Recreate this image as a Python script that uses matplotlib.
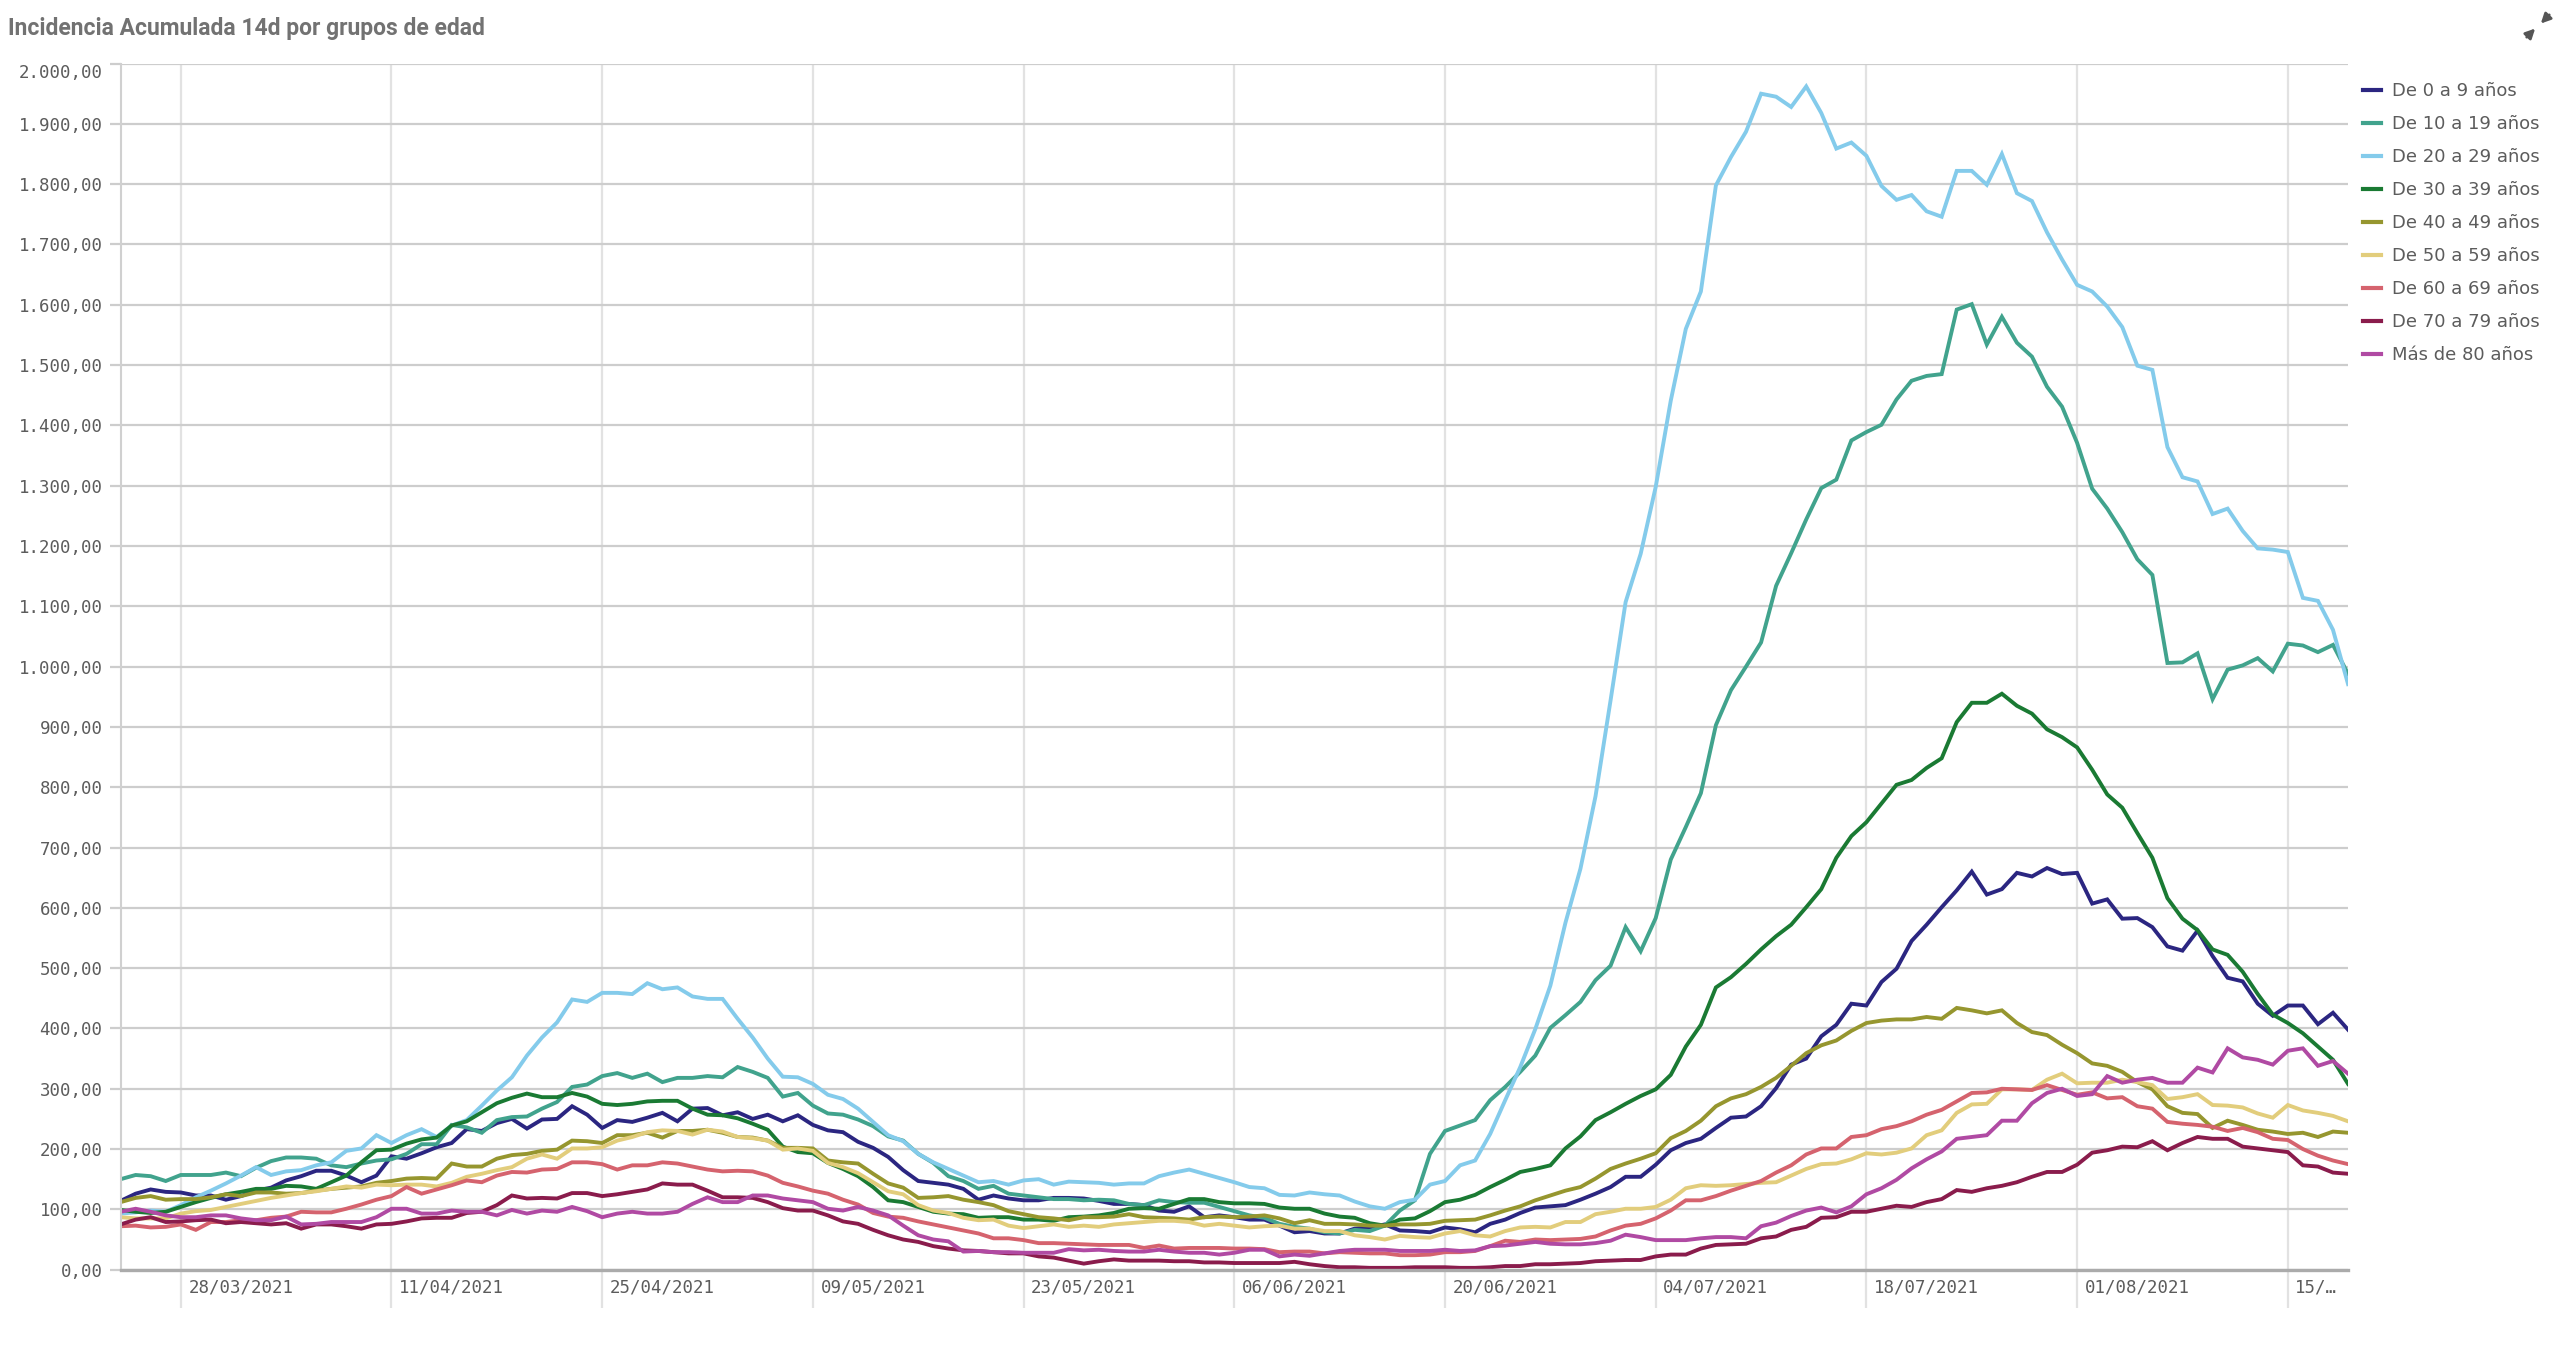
import numpy as np
import pandas as pd
import matplotlib
matplotlib.use("Agg")
import matplotlib.pyplot as plt
import matplotlib.transforms as mtransforms
from matplotlib import font_manager
from matplotlib.patches import FancyArrowPatch

# Incidencia acumulada a 14 dias por grupo de edad, 24/03/2021 - 19/08/2021
dates = pd.date_range("2021-03-24", periods=149, freq="D")

edad_0_9 = [114,126,133,129,128,123,123,116,122,131,136,148,155,164,164,156,145,156,188,184,
            193,203,210,233,230,243,250,234,249,250,271,257,235,248,
            245,252,260,246,267,268,256,261,250,257,246,256,240,231,228,212,202,187,165,147,
            144,141,134,116,123,118,115,115,119,119,118,114,109,
            109,107,98,96,105,87,90,87,83,83,73,62,64,60,60,68,70,75,65,64,62,70,67,62,76,83,
            94,103,105,107,116,126,137,
            154,154,174,198,210,217,235,252,254,271,301,340,350,387,406,441,438,477,499,545,
            572,601,629,
            660,622,631,658,652,666,656,658,607,614,582,583,568,536,529,562,520,484,478,441,
            421,438,438,407,426,398]

edad_10_19 = [150,157,155,147,157,157,157,161,155,169,180,186,186,184,173,170,176,181,183,192,
              208,208,240,236,227,248,253,254,267,278,303,307,321,326,
              318,325,311,318,318,321,319,336,328,318,287,293,272,259,257,249,238,221,214,192,
              177,155,147,134,139,126,123,120,117,117,115,116,115,
              109,107,115,112,111,111,104,97,90,86,76,71,68,62,60,66,64,73,98,115,192,230,239,
              248,281,303,328,355,401,422,444,480,504,
              568,528,583,680,734,790,903,961,1000,
              1040,1134,1188,1244,1296,1310,1375,1389,1401,1443,1474,1482,1485,1592,1601,1534,
              1580,1537,1514,1464,1431,1371,1295,1262,1223,1178,1152,1006,1007,1022,946,995,
              1002,1014,992,1038,1035,1024,1036,988]

edad_20_29 = [93,95,98,96,107,120,131,143,156,170,157,163,165,173,178,197,201,223,210,223,
              233,220,239,248,272,297,319,355,385,410,448,444,459,459,
              457,475,465,468,453,449,449,416,385,350,320,319,308,290,283,267,245,223,213,192,
              178,167,156,145,147,141,148,150,141,146,145,144,141,
              143,143,155,161,166,159,152,145,137,135,124,123,128,125,123,113,105,101,112,116,
              141,147,173,181,225,281,336,399,471,
              575,665,785,944,
              1107,1187,1298,1441,1560,1622,1798,1845,1887,1950,1945,1928,1962,1918,1859,1869,
              1847,1797,1774,1782,1755,1746,1822,1822,1799,
              1850,1785,1772,1720,1675,1633,1622,1597,1563,1499,1492,1364,1314,1307,1253,1262,
              1225,1196,1194,1190,1114,1109,1061,971]

edad_30_39 = [99,96,94,96,104,112,119,125,129,134,134,139,138,134,145,156,178,198,199,209,
              216,219,239,246,261,276,285,292,286,286,293,287,275,273,
              275,279,280,280,267,257,256,251,242,232,204,195,193,177,167,155,137,115,112,104,
              96,93,92,86,87,87,83,83,81,87,88,90,94,
              101,102,101,109,117,117,112,110,110,109,103,101,101,93,88,86,77,73,83,85,97,112,
              116,124,137,149,162,167,173,201,221,248,261,
              275,288,299,323,370,406,468,485,507,531,553,572,601,631,683,719,742,773,804,812,
              832,848,908,
              940,940,955,935,922,896,883,866,829,788,766,724,683,616,582,563,531,522,494,457,
              423,409,392,370,348,308]

edad_40_49 = [112,119,122,116,117,117,120,125,122,128,128,126,127,131,134,136,138,144,147,151,
              152,151,176,171,171,184,190,192,197,199,214,213,210,223,
              223,227,219,230,230,232,227,220,219,214,202,202,201,181,178,176,159,143,136,119,
              120,122,116,112,107,97,92,87,85,82,87,87,88,
              92,87,86,85,83,87,88,87,88,90,85,77,82,76,76,75,73,73,75,75,76,81,82,83,90,98,
              105,115,123,131,137,151,167,
              176,184,193,218,230,247,271,284,291,303,318,338,359,372,380,396,409,413,415,415,
              419,416,434,
              430,425,430,409,394,389,373,359,342,338,328,311,299,271,260,258,235,247,240,232,
              229,225,227,220,229,227]

edad_50_59 = [87,85,85,85,93,97,99,104,109,114,119,123,127,130,134,138,136,141,140,141,
              141,138,144,154,159,165,170,184,191,184,201,201,203,214,
              220,228,231,230,224,232,229,220,218,214,199,201,197,177,170,160,145,130,125,107,
              98,94,86,82,83,73,69,72,75,71,73,71,75,
              77,79,81,81,79,73,76,73,70,72,73,68,68,64,64,57,54,50,56,54,53,60,64,57,55,64,
              70,71,70,79,79,92,96,
              101,101,104,116,135,140,139,140,142,144,145,156,167,175,176,183,193,191,194,201,
              223,231,260,
              274,275,299,299,298,315,325,309,310,310,315,311,306,283,286,291,273,272,269,259,
              252,273,264,260,255,246]

edad_60_69 = [72,73,70,71,75,66,79,79,82,82,86,88,96,95,95,101,108,116,122,137,
              126,133,140,148,145,156,162,161,166,167,178,178,175,166,
              173,173,178,176,171,166,163,164,163,156,144,138,131,126,116,108,94,88,86,80,
              75,70,65,60,52,52,49,44,44,43,42,41,41,
              41,36,40,35,36,36,36,35,35,34,29,30,30,27,29,28,27,27,24,24,25,29,29,31,39,48,
              46,50,49,50,51,55,65,
              73,76,85,98,115,115,122,131,139,147,161,173,191,201,201,220,223,233,238,246,
              257,265,279,
              293,294,300,299,298,306,298,290,294,284,286,271,267,245,242,240,237,230,235,228,
              217,215,200,189,181,175]

edad_70_79 = [75,83,87,79,80,82,83,77,79,77,75,77,68,75,75,72,68,75,76,80,
              85,86,86,94,96,107,123,118,119,118,127,127,122,125,
              129,133,143,141,141,131,120,120,119,112,102,98,98,90,80,76,66,57,50,46,
              39,35,32,31,29,27,27,22,20,15,10,14,17,
              15,15,15,14,14,12,12,11,11,11,11,13,9,6,4,4,3,3,3,4,4,4,3,3,4,6,
              6,9,9,10,11,14,15,
              16,16,22,25,25,35,41,42,43,52,55,66,71,86,87,96,96,101,106,104,
              112,117,132,
              129,135,139,145,154,162,162,174,194,198,204,203,213,198,210,220,217,217,204,201,
              198,195,173,171,161,159]

edad_80_mas = [96,101,96,90,87,87,90,90,85,82,82,88,75,76,79,79,79,87,101,101,
               93,93,98,96,96,90,99,93,98,96,104,97,87,93,
               96,93,93,96,109,120,112,112,123,123,118,115,112,101,98,104,98,90,73,57,
               50,47,30,31,29,29,28,28,28,34,32,33,31,
               30,30,33,30,28,28,25,28,33,33,22,25,23,27,31,33,33,33,31,31,31,33,31,32,39,40,
               43,46,43,42,42,44,48,
               58,54,49,49,49,52,54,54,52,72,78,89,98,103,95,105,125,135,149,168,
               183,196,217,
               220,223,247,247,276,293,300,288,291,321,310,315,318,310,310,335,327,367,352,348,
               340,363,367,338,346,325]

series_names = ["De 0 a 9 años", "De 10 a 19 años", "De 20 a 29 años", "De 30 a 39 años",
                "De 40 a 49 años", "De 50 a 59 años", "De 60 a 69 años", "De 70 a 79 años",
                "Más de 80 años"]
series_values = [edad_0_9, edad_10_19, edad_20_29, edad_30_39, edad_40_49,
                 edad_50_59, edad_60_69, edad_70_79, edad_80_mas]
colors = ["#2b2681", "#41a38d", "#84cbeb", "#1a7a33", "#96962f",
          "#e2cd7c", "#d5636e", "#8a1c4c", "#b04aa3"]

y_ticks = np.arange(0, 2001, 100)
x_ticks = pd.date_range("2021-03-28", periods=11, freq="14D")
x_labels = [d.strftime("%d/%m/%Y") for d in x_ticks[:-1]] + ["15/…"]

names = {f.name for f in font_manager.fontManager.ttflist}
title_font = "Liberation Sans Narrow" if "Liberation Sans Narrow" in names else "Roboto"
mono = "DejaVu Sans Mono"
grey_txt = "#5c5c5c"

fig = plt.figure(figsize=(25.6, 13.52), dpi=100)
ax = fig.add_axes([0.0471, 0.0609, 0.8701, 0.8921])

for name, vals, c in zip(series_names, series_values, colors):
    ax.plot(dates, vals, color=c, lw=2.8, label=name, solid_joinstyle="miter")

ax.set_xlim(dates[0], dates[-1])
ax.set_ylim(0, 2000)

# horizontal grid
ax.set_yticks(y_ticks)
ylabels = [f"{v:,.2f}".replace(",", "X").replace(".", ",").replace("X", ".") for v in y_ticks]
ax.set_yticklabels(ylabels, fontfamily=mono, fontsize=12.5, color=grey_txt)
ax.get_yticklabels()[-1].set_va("top")
ax.grid(axis="y", color="#cdcdcd", lw=1.6)
ax.tick_params(axis="y", length=8, width=1.6, color="#cdcdcd", pad=5)

# vertical grid, running down past the axis
ax.set_xticks(x_ticks)
ax.set_xticklabels([])
ax.grid(axis="x", color="#e2e2e2", lw=1.6)
ax.tick_params(axis="x", length=27, width=1.6, color="#e2e2e2")
ax.set_axisbelow(True)

trans = mtransforms.blended_transform_factory(ax.transData, ax.transAxes)
for d, lab in zip(x_ticks, x_labels):
    ax.text(d + pd.Timedelta(hours=12), -0.0145, lab, transform=trans, ha="left",
            va="center", fontfamily=mono, fontsize=12.5, color=grey_txt)

for s in ["top", "right"]:
    ax.spines[s].set_visible(False)
ax.spines["left"].set_color("#d0d0d0")
ax.spines["left"].set_linewidth(1.5)
ax.spines["bottom"].set_color("#ababab")
ax.spines["bottom"].set_linewidth(2.4)

fig.text(0.003, 0.979, "Incidencia Acumulada 14d por grupos de edad", fontfamily=title_font,
         fontweight="bold", fontsize=16.5, color="#727272", ha="left", va="center")

leg = fig.legend(loc="upper left", bbox_to_anchor=(0.9232, 0.939), frameon=False,
                 fontsize=13, handlelength=1.0, handletextpad=0.6, labelspacing=0.83,
                 borderpad=0, borderaxespad=0)
for t in leg.get_texts():
    t.set_color(grey_txt)
for h in leg.get_lines():
    h.set_linewidth(3)

# small collapse icon in the corner: two arrows pointing at each other
for start, end in [((0.9958, 0.9890), (0.9925, 0.9826)), ((0.9870, 0.9725), (0.9903, 0.9789))]:
    fig.add_artist(FancyArrowPatch(start, end, transform=fig.transFigure,
                                   arrowstyle="-|>", mutation_scale=14,
                                   color="#555555", lw=2, shrinkA=0, shrinkB=0))

fig.savefig("out.png", dpi=100)
